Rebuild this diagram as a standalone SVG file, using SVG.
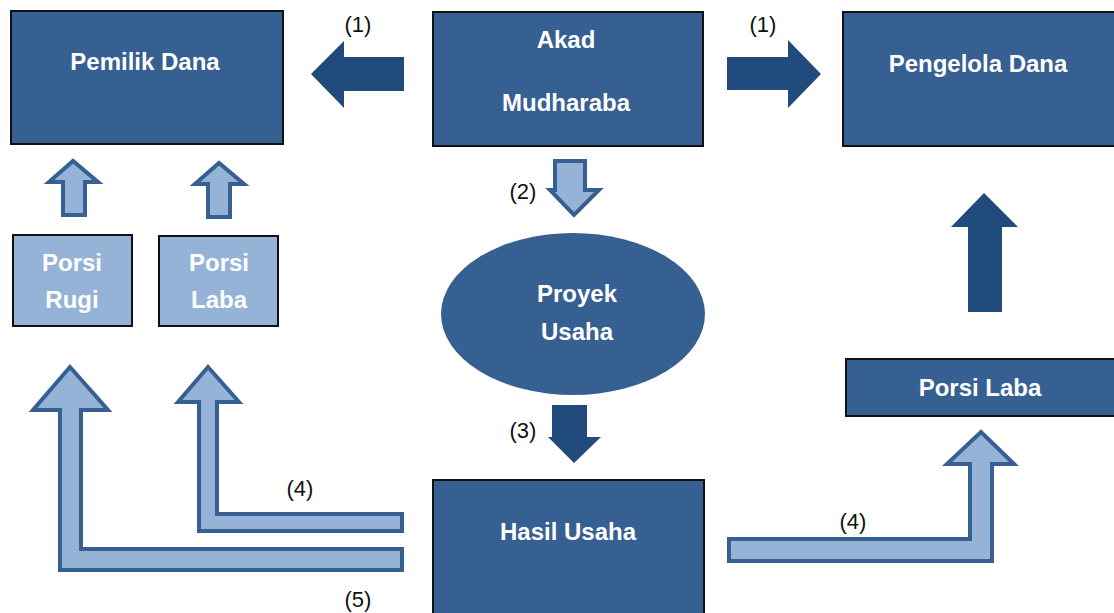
<svg xmlns="http://www.w3.org/2000/svg" width="1114" height="613" viewBox="0 0 1114 613">
<style>
.box{fill:#376092;stroke:#111;stroke-width:2}
.lbox{fill:#95B3D7;stroke:#111;stroke-width:2}
.t{font-family:"Liberation Sans",Arial,sans-serif;font-weight:bold;font-size:24px;fill:#fff;text-anchor:middle}
.n{font-family:"Liberation Sans",Arial,sans-serif;font-size:22px;fill:#111;text-anchor:middle}
.dark{fill:#214A7D}
.light{fill:#95B3D7;stroke:#376092;stroke-width:4;stroke-linejoin:miter}
</style>
<rect width="1114" height="613" fill="#fff"/>
<g id="pemilik-dana"><rect class="box" x="11" y="11" width="272" height="133"/><text class="t" x="145" y="70">Pemilik Dana</text></g>
<g id="akad"><rect class="box" x="433" y="12" width="270" height="134"/><text class="t" x="566" y="48">Akad</text><text class="t" x="566" y="111">Mudharaba</text></g>
<g id="pengelola-dana"><rect class="box" x="843" y="12" width="272" height="134"/><text class="t" x="978" y="72">Pengelola Dana</text></g>
<g id="porsi-rugi"><rect class="lbox" x="13" y="235" width="119" height="91"/><text class="t" x="72" y="271">Porsi</text><text class="t" x="72" y="308">Rugi</text></g>
<g id="porsi-laba-left"><rect class="lbox" x="159" y="236" width="119" height="90"/><text class="t" x="219" y="271">Porsi</text><text class="t" x="219" y="308">Laba</text></g>
<g id="proyek-usaha"><ellipse cx="573" cy="314" rx="132" ry="81" fill="#376092"/><text class="t" x="577" y="302">Proyek</text><text class="t" x="577" y="340">Usaha</text></g>
<g id="porsi-laba-right"><rect class="box" x="846" y="359" width="270" height="57"/><text class="t" x="980" y="396">Porsi Laba</text></g>
<g id="hasil-usaha"><rect class="box" x="433" y="480" width="271" height="135"/><text class="t" x="568" y="540">Hasil Usaha</text></g>
<g id="connectors">
<polygon class="dark" points="404,57 344,57 344,41 311,74 344,108 344,91 404,91"/>
<polygon class="dark" points="727,57 788,57 788,40 821,74 788,108 788,90 727,90"/>
<polygon class="dark" points="968,312 968,227 951,227 984,193 1018,227 1002,227 1002,312"/>
<polygon class="light" points="63,215 63,182 49,182 73,161 98,182 85,182 85,215"/>
<polygon class="light" points="208,217 208,184 195,184 219,163 244,184 230,184 230,217"/>
<polygon class="light" points="555,161 585,161 585,190 599,190 574,215 550,190 555,190"/>
<polygon class="dark" points="552,405 587,405 587,437 601,437 574,463 548,437 552,437"/>
<polygon class="light" points="70,367 108,410 81,410 81,549 402,549 402,570 60,570 60,410 33,410"/>
<polygon class="light" points="208,367 239,402 217,402 217,514 402,514 402,531 199,531 199,402 178,402"/>
<polygon class="light" points="729,539 970,539 970,464 947,464 981,432 1014,464 992,464 992,561 729,561"/>
<text class="n" x="358" y="32">(1)</text>
<text class="n" x="763" y="32">(1)</text>
<text class="n" x="523" y="199">(2)</text>
<text class="n" x="523" y="438">(3)</text>
<text class="n" x="300" y="496">(4)</text>
<text class="n" x="853" y="529">(4)</text>
<text class="n" x="358" y="607">(5)</text>
</g>
</svg>
